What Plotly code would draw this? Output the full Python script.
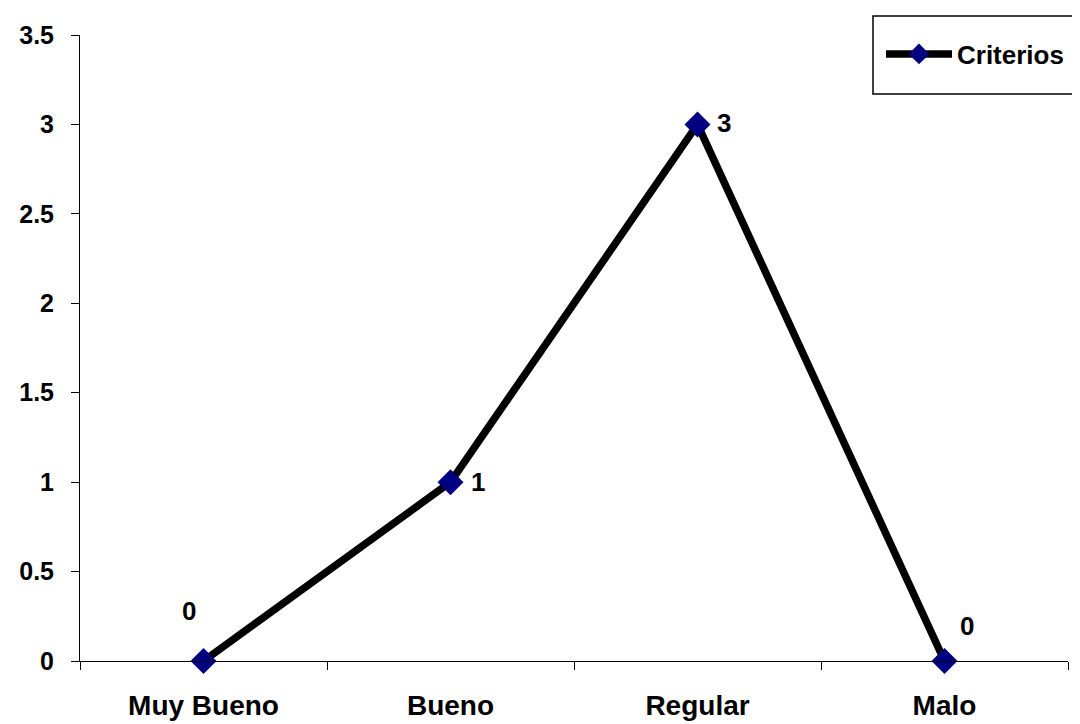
import plotly.graph_objects as go

categories = ["Muy Bueno", "Bueno", "Regular", "Malo"]
values = [0, 1, 3, 0]
series_name = "Criterios"
y_ticks = [0, 0.5, 1, 1.5, 2, 2.5, 3, 3.5]
y_tick_labels = ["0", "0.5", "1", "1.5", "2", "2.5", "3", "3.5"]

label_offsets = [(-15, 50), (27, 0), (26, 1), (22, 35)]

FONT = "Liberation Sans, Arial, sans-serif"

# page body has an 8px margin; plot area on screen: x 80..1068, y 35..661
W, H = 1072, 716
L, R, T, B = 72, 12, 27, 63
PW, PH = W - L - R, H - T - B


def px(sx):
    return (sx - 8 - L) / PW


def py(sy):
    return (H - B - (sy - 8)) / PH


fig = go.Figure()
fig.add_trace(go.Scatter(
    x=categories, y=values, name="<b>" + series_name + "</b>", mode="lines+markers",
    line=dict(color="black", width=7.5),
    marker=dict(symbol="diamond", size=20, color="#000080", line=dict(width=0)),
    showlegend=True, cliponaxis=False,
))

for c, v, (dx, dy) in zip(categories, values, label_offsets):
    fig.add_annotation(x=c, y=v, text="<b>%g</b>" % v, showarrow=False,
                       xshift=dx, yshift=dy,
                       font=dict(family=FONT, size=26, color="black"))

fig.add_shape(type="rect", xref="paper", yref="paper",
              x0=px(873), x1=px(1079), y0=py(94), y1=py(16),
              line=dict(color="black", width=1.5), fillcolor="rgba(0,0,0,0)")

fig.update_layout(
    width=W, height=H,
    margin=dict(l=L, r=R, t=T, b=B, autoexpand=False),
    paper_bgcolor="white", plot_bgcolor="white",
    font=dict(family=FONT, size=21, color="black"),
    legend=dict(x=px(881), y=py(54), xanchor="left", yanchor="middle",
                bgcolor="rgba(0,0,0,0)", borderwidth=0,
                font=dict(family=FONT, size=26, color="black"),
                itemwidth=66),
    xaxis=dict(type="category", range=[-0.5, 3.5], tickson="boundaries",
               ticks="outside", ticklen=8, tickcolor="black", tickwidth=1,
               showline=True, linecolor="black", linewidth=1,
               showgrid=False, zeroline=False, automargin=False,
               ticklabelstandoff=19,
               tickfont=dict(family=FONT, size=28, color="black", weight="bold"),
               fixedrange=True),
    yaxis=dict(range=[0, 3.5], tickvals=y_ticks, ticktext=y_tick_labels,
               ticks="outside", ticklen=8, tickcolor="black", tickwidth=1,
               showline=True, linecolor="black", linewidth=1,
               showgrid=False, zeroline=False, automargin=False,
               ticklabelstandoff=12,
               tickfont=dict(family=FONT, size=25, color="black", weight="bold")),
)

fig.write_html("out.html")
